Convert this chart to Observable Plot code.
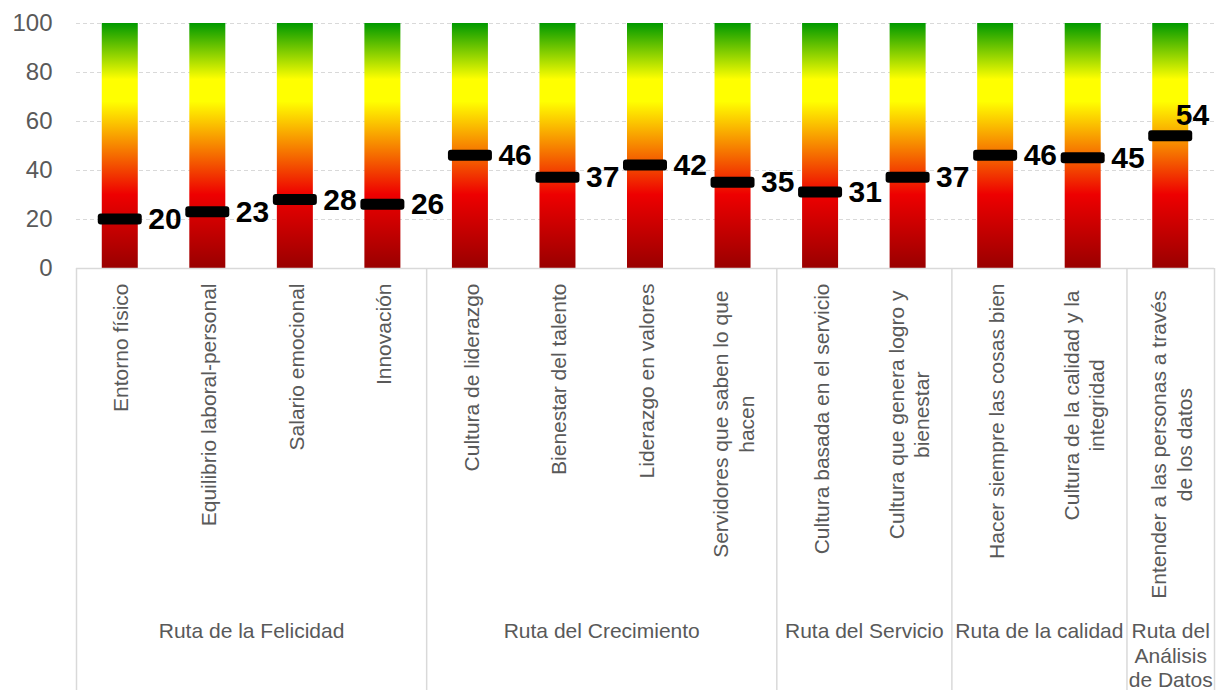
<!DOCTYPE html>
<html>
<head>
<meta charset="utf-8">
<script src="https://cdn.jsdelivr.net/npm/d3@7"></script>
<script src="https://cdn.jsdelivr.net/npm/@observablehq/plot@0.6"></script>
<style>
  html, body { margin: 0; padding: 0; background: #fff; }
  #chart svg { display: block; }
</style>
</head>
<body>
<div id="chart"></div>
<script>
// ---- data ----
const categories = [
  "Entorno físico",
  "Equilibrio laboral-personal",
  "Salario emocional",
  "Innovación",
  "Cultura de liderazgo",
  "Bienestar del talento",
  "Liderazgo en valores",
  "Servidores que saben lo que\nhacen",
  "Cultura basada en el servicio",
  "Cultura que genera logro y\nbienestar",
  "Hacer siempre las cosas bien",
  "Cultura de la calidad y la\nintegridad",
  "Entender a las personas a través\nde los datos"
];
const values = [20, 23, 28, 26, 46, 37, 42, 35, 31, 37, 46, 45, 54];
const groups = ["Ruta de la Felicidad", "Ruta del Crecimiento", "Ruta del Servicio", "Ruta de la calidad", "Ruta del\nAnálisis\nde Datos"];
const groupSizes = [4, 4, 2, 2, 1];
const yTicks = [0, 20, 40, 60, 80, 100];
const scaleMax = 100;

// ---- layout ----
const W = 1222, H = 690;
const mTop = 23, mBottom = 422, mLeft = 76, mRight = 8;
const plotBottom = H - mBottom;
const pxToY = d3.scaleLinear([plotBottom, mTop], [0, scaleMax]);
const bandPx = (W - mLeft - mRight) / categories.length;
const FONT = "'Liberation Sans', Arial, Helvetica, sans-serif";
const GREY = "#595959";

const data = categories.map((c, i) => ({i, cat: c, v: values[i]}));

// text measurement for rotated category labels
const ctx = document.createElement("canvas").getContext("2d");
ctx.font = `21px ${FONT}`;
const maxLineW = s => Math.max(...s.split("\n").map(l => ctx.measureText(l).width));
const catData = data.map(d => {
  const multi = d.cat.includes("\n");
  const top = plotBottom + 15 + (multi ? 7 : 0);
  return {...d, ly: pxToY(top + maxLineW(d.cat) / 2)};
});

// groups
let acc = 0;
const groupData = groups.map((g, k) => {
  const start = acc; acc += groupSizes[k];
  return {g, start, end: acc, mid: (start + acc) / 2};
});
const boundaries = [0, ...groupData.map(d => d.end)];

const barInset = (bandPx - 36) / 2;
const markInset = (bandPx - 44) / 2;
const last = data.length - 1;

const chart = Plot.plot({
  width: W, height: H,
  marginTop: mTop, marginBottom: mBottom, marginLeft: mLeft, marginRight: mRight,
  style: {fontFamily: FONT, background: "#fff", overflow: "visible"},
  x: {type: "linear", domain: [0, categories.length], axis: null},
  y: {domain: [0, scaleMax], axis: null},
  marks: [
    Plot.gridY(yTicks.filter(t => t > 0), {stroke: "#d9d9d9", strokeOpacity: 1, strokeDasharray: "4,3", strokeWidth: 1}),
    Plot.rect(data, {x1: d => d.i, x2: d => d.i + 1, y1: 0, y2: scaleMax,
      insetLeft: barInset, insetRight: barInset, fill: "url(#scoreGrad)"}),
    Plot.ruleY([0], {stroke: "#d9d9d9", strokeWidth: 1.5}),
    Plot.ruleX(boundaries, {x: d => d, y1: 0, y2: pxToY(H), stroke: "#d9d9d9", strokeWidth: 1.5}),
    Plot.rect(data, {x1: d => d.i, x2: d => d.i + 1, y1: d => d.v, y2: d => d.v,
      insetLeft: markInset, insetRight: markInset, insetTop: -5.5, insetBottom: -5.5, rx: 3, fill: "#000"}),
    Plot.text(data.filter(d => d.i !== last), {x: d => d.i + 0.5, y: d => d.v, text: d => String(d.v),
      dx: 28, textAnchor: "start", lineAnchor: "middle", fontSize: 30, fontWeight: "bold", fill: "#000"}),
    Plot.text(data.filter(d => d.i === last), {x: d => d.i + 0.5, y: d => d.v, text: d => String(d.v),
      dx: 5, dy: -21, textAnchor: "start", lineAnchor: "middle", fontSize: 30, fontWeight: "bold", fill: "#000"}),
    Plot.axisY(yTicks, {tickSize: 0, tickPadding: 24, fontSize: 24, color: GREY, anchor: "left"}),
    Plot.text(catData, {x: d => d.i + 0.5, y: d => d.ly, text: d => d.cat, rotate: -90,
      textAnchor: "middle", lineAnchor: "middle", fontSize: 21, lineHeight: 1.22, fill: GREY}),
    Plot.text(groupData, {x: d => d.mid, frameAnchor: "bottom", dy: 352, text: d => d.g,
      lineAnchor: "top", textAnchor: "middle", fontSize: 21, lineHeight: 1.17, fill: GREY})
  ]
});

// gradient definition for the bars
const defs = d3.select(chart).insert("defs", ":first-child");
const grad = defs.append("linearGradient").attr("id", "scoreGrad")
  .attr("x1", 0).attr("y1", 1).attr("x2", 0).attr("y2", 0);
[[0, "#990000"], [0.3, "#ee0000"], [0.68, "#ffff00"], [0.77, "#ffff00"], [1, "#009900"]].forEach(([o, c]) =>
  grad.append("stop").attr("offset", o).attr("stop-color", c));

document.getElementById("chart").appendChild(chart);
</script>
</body>
</html>
